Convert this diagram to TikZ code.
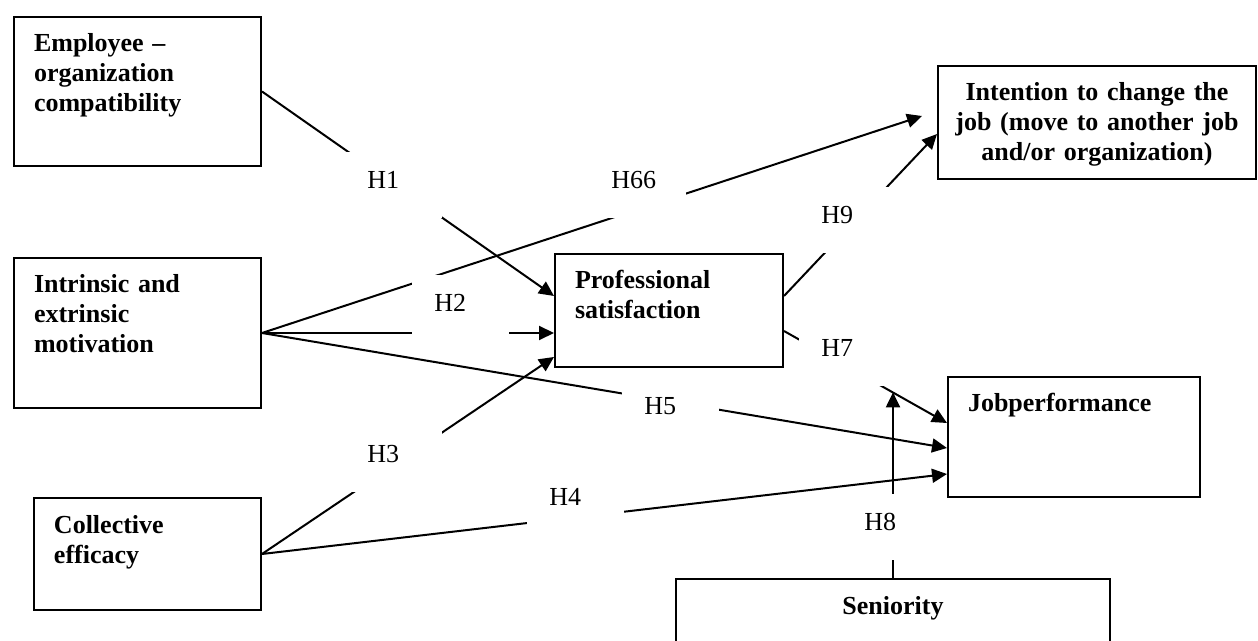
\documentclass[tikz,border=0pt]{standalone}
\usepackage{fontspec}
\setmainfont{Liberation Serif}
\usetikzlibrary{arrows.meta,calc}
\newcommand{\diagfont}{\fontsize{13}{15}\selectfont}

\begin{document}
\begin{tikzpicture}[x=0.5pt, y=-0.5pt,
    font=\diagfont,
    box/.style={draw, line width=1pt, anchor=north west, inner xsep=10pt, inner ysep=0pt, text height=17.5pt, align=left, font=\diagfont\bfseries},
    hyp/.style={fill=white, anchor=north west, inner xsep=11pt, inner ysep=0pt, text width=26.5pt, text height=18.25pt, text depth=14.75pt, align=left},
    link/.style={line width=1pt},
    arr/.style={link, -{Triangle[length=7.5pt, width=7pt]}}
]
    \useasboundingbox (0,0) rectangle (1258,641);
    \clip (0,0) rectangle (1258,641);

    % Constructs
    \node[box, text width=103.5pt, text depth=57pt] (E) at (13,16) {Employee~–\\organization\\compatibility};
    \node[box, text width=103.5pt, text depth=57.5pt] (I) at (13,257) {Intrinsic and\\extrinsic\\motivation};
    \node[box, text width=93.5pt, text depth=38.5pt] (C) at (33,497) {Collective\\efficacy};
    \node[box, text width=94pt, text depth=39pt] (P) at (554,253) {Professional\\satisfaction};
    \node[box, inner xsep=6.5pt, text width=146pt, text depth=39pt, align=center] (T) at (937,65) {Intention to change the\\job (move to another job\\and/or organization)};
    \node[box, text width=106pt, text depth=42.5pt] (J) at (947,376) {Jobperformance};
    \node[box, text width=197pt, text depth=30pt, align=center] (S) at (675,578) {Seniority};

    % Paths into professional satisfaction
    \draw[arr] (E.east) -- ($(P.west)+(0,-14.5)$);
    \draw[arr] (I.east) -- (I.east -| P.west);
    \draw[arr] (C.east) -- ($(P.west)+(0,46.5)$);

    % Direct paths
    \draw[arr] (I.east) -- ($(T.west)+(-15,-6.5)$);
    \draw[arr] (I.east) -- ($(J.west)+(0,11)$);
    \draw[arr] (C.east) -- ($(J.west)+(0,37)$);

    % Outcomes of professional satisfaction
    \draw[arr] ($(P.east)+(0,-14.5)$) -- ($(T.west)+(0,11.5)$);
    \draw[arr] ($(P.east)+(0,20.5)$) coordinate (p7) -- ($(J.west)+(0,-14)$) coordinate (j7);

    % Moderation by seniority
    \coordinate (m) at ($(p7)!2/3!(j7)$);
    \draw[arr] (S.north) -- (S.north |- m);

    % Hypothesis labels
    \node[hyp] (h1) at (345,152) {H1};
    \node[hyp] (h66) at (589,152) {H66};
    \node[hyp] (h2) at (412,275) {H2};
    \node[hyp] (h3) at (345,426) {H3};
    \node[hyp] (h4) at (527,469) {H4};
    \node[hyp] (h5) at (622,378) {H5};
    \node[hyp] (h7) at (799,320) {H7};
    \node[hyp] (h8) at (842,494) {H8};
    \node[hyp] (h9) at (799,187) {H9};

\end{tikzpicture}
\end{document}
